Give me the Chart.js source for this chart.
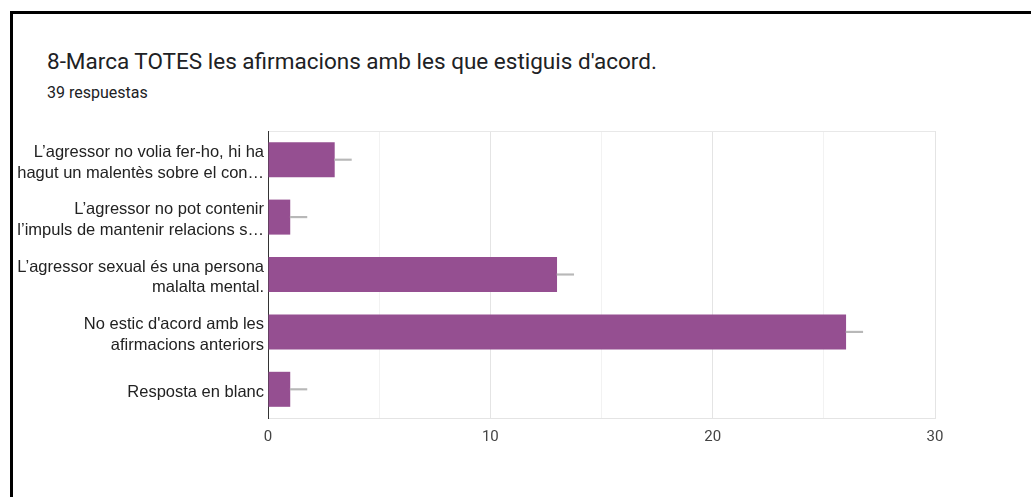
<!DOCTYPE html>
<html>
<head>
<meta charset="utf-8">
<script src="https://cdn.jsdelivr.net/npm/chart.js@4.4.1/dist/chart.umd.min.js"></script>
<style>
  html, body { margin: 0; padding: 0; background: #fff; }
  body { width: 1031px; height: 497px; position: relative; overflow: hidden; }
  #frame { position: absolute; left: 10px; top: 11px; width: 1100px; height: 600px;
           border-left: 3px solid #000; border-top: 3px solid #000; }
  #title { position: absolute; left: 47px; top: 48px; font: 22.5px Roboto, sans-serif; color: #202124; }
  #sub { position: absolute; left: 47px; top: 83px; font: 16px Roboto, sans-serif; color: #202124; }
  #chart { position: absolute; left: 0; top: 0; }
</style>
</head>
<body>
<div id="frame"></div>
<div id="title">8-Marca TOTES les afirmacions amb les que estiguis d'acord.</div>
<div id="sub">39 respuestas</div>
<canvas id="chart" width="1031" height="497"></canvas>
<script>
// categories (two-line labels as shown)
const categories = [
    ["L’agressor no volia fer-ho, hi ha", "hagut un malentès sobre el con…"],
    ["L’agressor no pot contenir", "l’impuls de mantenir relacions s…"],
    ["L’agressor sexual és una persona", "malalta mental."],
    ["No estic d'acord amb les", "afirmacions anteriors"],
    ["Resposta en blanc"]
];
const counts = [3, 1, 13, 26, 1];
// grey whiskers after each bar
const whiskerEnds = [3.75, 1.75, 13.75, 26.75, 1.75];
const xTicks = [0, 10, 20, 30];

(function() {
    "use strict";
    var ctx = document.getElementById('chart').getContext('2d');
    new Chart(ctx, {
        type: 'bar',
        data: {
            labels: categories,
            datasets: [
                {
                    label: 'whisker',
                    data: counts.map((v, i) => [v, whiskerEnds[i]]),
                    backgroundColor: '#b8b8b8',
                    barThickness: 1.5,
                    grouped: false,
                    order: 1
                },
                {
                    label: 'respostes',
                    data: counts,
                    backgroundColor: '#954f91',
                    borderWidth: 0,
                    barPercentage: 0.61,
                    categoryPercentage: 1,
                    grouped: false,
                    order: 2
                }
            ]
        },
        options: {
            indexAxis: 'y',
            responsive: false,
            animation: false,
            layout: { padding: { top: 131, right: 96, bottom: 49, left: 0 } },
            plugins: {
                legend: { display: false },
                tooltip: { enabled: false }
            },
            scales: {
                x: {
                    min: 0,
                    max: 30,
                    afterBuildTicks: scale => { scale.ticks = [0, 5, 10, 15, 20, 25, 30].map(v => ({ value: v })); },
                    afterFit: scale => { scale.height = 30; },
                    grid: {
                        color: c => (c.tick && c.tick.value % 10 === 0) ? '#e4e4e4' : '#f2f2f2',
                        drawTicks: false
                    },
                    border: { color: '#e4e4e4' },
                    ticks: {
                        padding: 10,
                        color: '#444',
                        font: { family: 'Roboto', size: 15 },
                        callback: v => xTicks.includes(v) ? String(v) : ''
                    }
                },
                y: {
                    afterFit: scale => { scale.width = 268; },
                    grid: {
                        offset: true,
                        drawTicks: false,
                        color: c => (c.type === 'scale' || c.index === 0) ? '#e8e8e8' : 'rgba(0,0,0,0)'
                    },
                    border: { color: '#333', width: 1 },
                    ticks: {
                        padding: 4,
                        labelOffset: 3,
                        color: '#222',
                        font: { family: 'Liberation Sans', size: 16.5, lineHeight: 1.25 }
                    }
                }
            }
        }
    });
})();
</script>
</body>
</html>
